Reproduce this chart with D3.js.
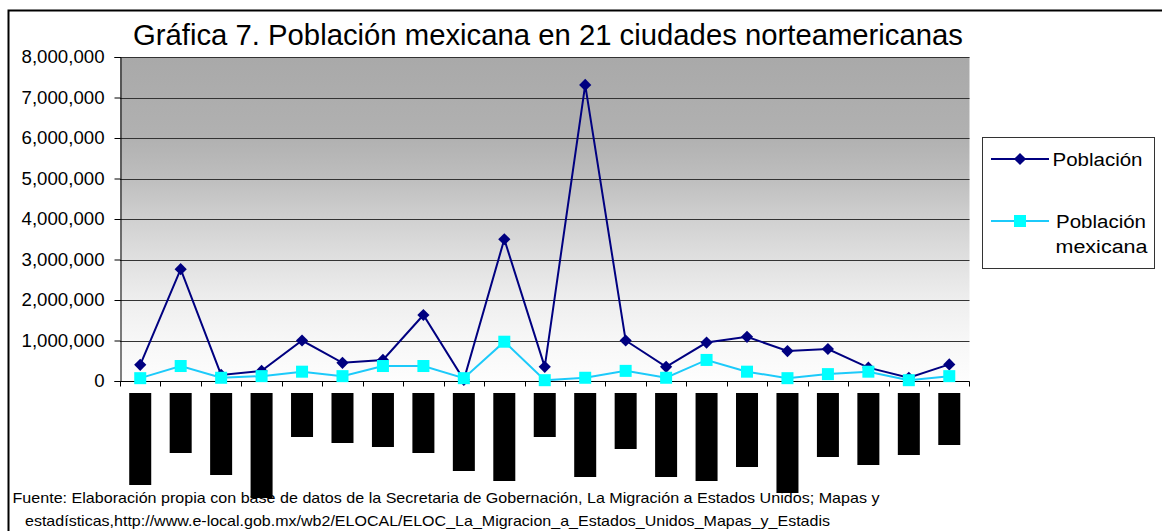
<!DOCTYPE html>
<html>
<head>
<meta charset="utf-8">
<script src="https://cdn.jsdelivr.net/npm/d3@7"></script>
<style>
  html, body { margin: 0; padding: 0; background: #fff; }
  svg { display: block; font-family: "Liberation Sans", Arial, sans-serif; }
</style>
</head>
<body>
<svg id="chart" width="1162" height="531"></svg>
<script>
// ---- data ----
const title = "Gráfica 7. Población mexicana en 21 ciudades norteamericanas";
const cities = d3.range(1, 22).map(String);
const poblacion = [400000, 2760000, 150000, 250000, 1000000, 450000, 520000, 1630000, 30000, 3500000,
                   350000, 7310000, 1000000, 350000, 950000, 1090000, 740000, 790000, 330000, 80000, 410000];
const mexicana  = [70000, 370000, 80000, 120000, 230000, 120000, 370000, 370000, 70000, 970000,
                   20000, 80000, 250000, 80000, 520000, 230000, 70000, 170000, 230000, 20000, 120000];
// lengths of the (unreadable, blacked-out) rotated category labels, in characters
const labelLengths = [23, 15, 20.5, 26.25, 11, 12.5, 13.5, 15, 19.5, 22, 11, 21, 14, 21, 22, 18.5, 25, 16, 18, 15.5, 13];
const yTicks = [0, 1000000, 2000000, 3000000, 4000000, 5000000, 6000000, 7000000, 8000000];
const seriesNames = ["Población", "Población mexicana"];
const footer = [
  "Fuente: Elaboración propia con base de datos de la Secretaria de Gobernación, La Migración a Estados Unidos; Mapas y",
  "estadísticas,http://www.e-local.gob.mx/wb2/ELOCAL/ELOC_La_Migracion_a_Estados_Unidos_Mapas_y_Estadis"
];

// ---- layout ----
const svg = d3.select("#chart");
const plot = { left: 120, right: 969.5, top: 57, bottom: 381 };
const STRETCH = 1.08; // text in the original is slightly wide

function stretch(sel, f) {
  sel.each(function () {
    const len = this.getComputedTextLength();
    d3.select(this).attr("textLength", len * (f || STRETCH)).attr("lengthAdjust", "spacingAndGlyphs");
  });
}

const x = d3.scaleBand().domain(cities).range([plot.left, plot.right]).padding(0);
const y = d3.scaleLinear().domain([0, 8000000]).range([plot.bottom, plot.top]);
const cx = c => x(c) + x.bandwidth() / 2;
const labelScale = d3.scaleLinear().domain([0, 25]).range([0, 100]);

// outer border
svg.append("rect").attr("x", 8.5).attr("y", 10.5).attr("width", 1300).attr("height", 700)
  .attr("fill", "none").attr("stroke", "#000").attr("stroke-width", 2);

// gradient background
const defs = svg.append("defs");
const grad = defs.append("linearGradient").attr("id", "bg").attr("x1", 0).attr("y1", 0).attr("x2", 0).attr("y2", 1);
[[0, "#a9a9a9"], [0.25, "#b1b1b1"], [0.375, "#bebebe"], [0.5, "#d0d0d0"], [0.625, "#e0e0e0"],
 [0.75, "#eeeeee"], [0.875, "#f7f7f7"], [1, "#fdfdfd"]]
  .forEach(([o, c]) => grad.append("stop").attr("offset", o).attr("stop-color", c));
svg.append("rect").attr("x", plot.left).attr("y", plot.top)
  .attr("width", plot.right - plot.left).attr("height", plot.bottom - plot.top)
  .attr("fill", "url(#bg)");

// gridlines
svg.append("g").selectAll("line").data(yTicks.filter(d => d > 0)).join("line")
  .attr("x1", plot.left).attr("x2", plot.right)
  .attr("y1", d => Math.round(y(d)) + 0.5).attr("y2", d => Math.round(y(d)) + 0.5)
  .attr("stroke", "#333").attr("stroke-width", 1.2);

// y axis
const yAxis = d3.axisLeft(y).tickValues(yTicks).tickSize(6).tickPadding(10)
  .tickFormat(d3.format(",d"));
const gy = svg.append("g").attr("transform", `translate(${plot.left + 0.5},0)`).call(yAxis);
gy.select(".domain").attr("stroke", "#000");
gy.selectAll(".tick line").attr("stroke", "#000");
gy.selectAll(".tick text").attr("font-size", 17.6).attr("fill", "#000")
  .attr("font-family", "'Liberation Sans', Arial, sans-serif");
stretch(gy.selectAll(".tick text"), 1.06);

// x axis (ticks between categories)
const gx = svg.append("g").attr("transform", `translate(0,${plot.bottom + 0.5})`);
gx.append("line").attr("x1", plot.left).attr("x2", plot.right).attr("stroke", "#000");
gx.selectAll("line.t").data(d3.range(cities.length + 1)).join("line").attr("class", "t")
  .attr("x1", i => Math.round(plot.left + i * x.step()) + 0.5)
  .attr("x2", i => Math.round(plot.left + i * x.step()) + 0.5)
  .attr("y1", 0).attr("y2", 5).attr("stroke", "#000");

// blacked-out category labels
svg.append("g").selectAll("rect").data(cities).join("rect")
  .attr("x", c => cx(c) - 11)
  .attr("y", 393)
  .attr("width", 22)
  .attr("height", (c, i) => labelScale(labelLengths[i]))
  .attr("fill", "#000");

// lines
const line = d3.line().x((d, i) => cx(cities[i])).y(d => y(d));
svg.append("path").datum(poblacion).attr("d", line)
  .attr("fill", "none").attr("stroke", "#000080").attr("stroke-width", 2);
svg.append("path").datum(mexicana).attr("d", line)
  .attr("fill", "none").attr("stroke", "#1ccafa").attr("stroke-width", 2);

// markers
const diamond = d3.symbol().type(d3.symbolDiamond2).size(95);
svg.append("g").selectAll("path").data(poblacion).join("path")
  .attr("d", diamond)
  .attr("transform", (d, i) => `translate(${cx(cities[i])},${y(d)})`)
  .attr("fill", "#000080");
svg.append("g").selectAll("rect").data(mexicana).join("rect")
  .attr("x", (d, i) => cx(cities[i]) - 6).attr("y", d => y(d) - 6)
  .attr("width", 12).attr("height", 12).attr("fill", "#00ffff");

// title
svg.append("text").attr("x", 548).attr("y", 45).attr("text-anchor", "middle")
  .attr("font-size", 28.6).attr("fill", "#000").text(title)
  .attr("textLength", 830).attr("lengthAdjust", "spacingAndGlyphs");

// legend
const lg = svg.append("g");
lg.append("rect").attr("x", 982.5).attr("y", 137.5).attr("width", 172).attr("height", 131)
  .attr("fill", "#fff").attr("stroke", "#333").attr("stroke-width", 1);
lg.append("line").attr("x1", 991).attr("x2", 1049).attr("y1", 159).attr("y2", 159)
  .attr("stroke", "#000080").attr("stroke-width", 2);
lg.append("path").attr("d", diamond).attr("transform", "translate(1020,159)").attr("fill", "#000080");
lg.append("text").attr("x", 1097.5).attr("y", 166).attr("text-anchor", "middle")
  .attr("font-size", 18).attr("fill", "#000").text(seriesNames[0])
  .attr("textLength", 90).attr("lengthAdjust", "spacingAndGlyphs");
lg.append("line").attr("x1", 991).attr("x2", 1049).attr("y1", 221).attr("y2", 221)
  .attr("stroke", "#1ccafa").attr("stroke-width", 2);
lg.append("rect").attr("x", 1014).attr("y", 215).attr("width", 12).attr("height", 12).attr("fill", "#00ffff");
const words = seriesNames[1].split(" ");
lg.append("text").attr("x", 1101).attr("y", 227.5).attr("text-anchor", "middle")
  .attr("font-size", 18).attr("fill", "#000").text(words[0])
  .attr("textLength", 90).attr("lengthAdjust", "spacingAndGlyphs");
lg.append("text").attr("x", 1101.5).attr("y", 253).attr("text-anchor", "middle")
  .attr("font-size", 18).attr("fill", "#000").text(words[1])
  .attr("textLength", 92).attr("lengthAdjust", "spacingAndGlyphs");

// footer
svg.append("text").attr("x", 12.5).attr("y", 502.5).attr("font-size", 14.6).attr("fill", "#000").text(footer[0])
  .attr("textLength", 867).attr("lengthAdjust", "spacingAndGlyphs");
svg.append("text").attr("x", 25).attr("y", 525.5).attr("font-size", 14.6).attr("fill", "#000").text(footer[1])
  .attr("textLength", 805).attr("lengthAdjust", "spacingAndGlyphs");
</script>
</body>
</html>
